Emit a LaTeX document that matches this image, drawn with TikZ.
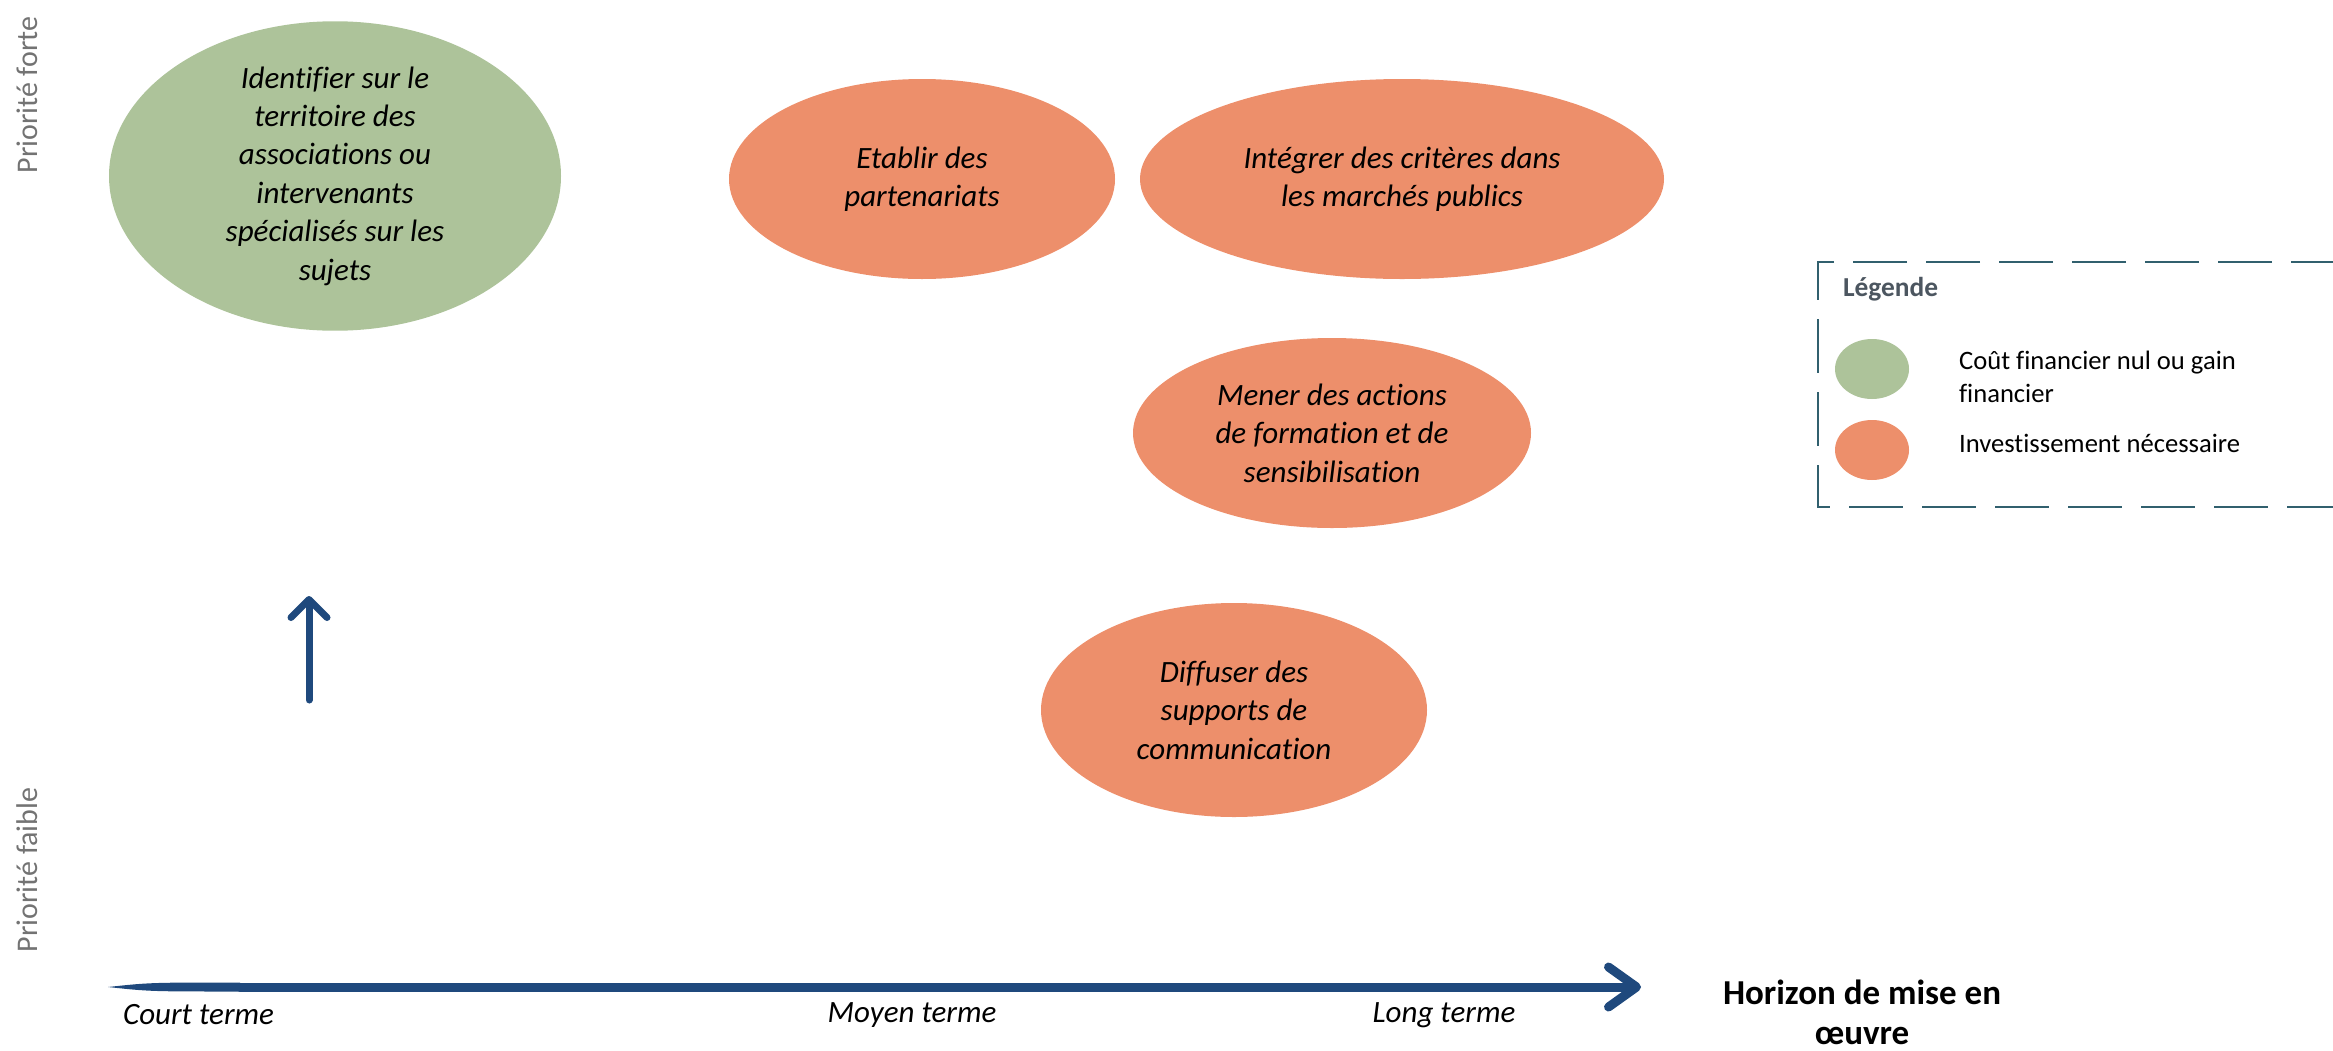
\documentclass[tikz,border=0pt]{standalone}
\usepackage{fontspec}
\setmainfont{Carlito}[Ligatures=NoCommon]
\usepackage{xcolor}
\usepackage{tikz}
\usetikzlibrary{arrows.meta,positioning,shapes.geometric}

\definecolor{gaingreen}{RGB}{173,195,154}
\definecolor{investorange}{RGB}{237,143,107}
\definecolor{axisblue}{RGB}{31,73,125}
\definecolor{legendline}{RGB}{49,96,110}
\definecolor{legendtitle}{RGB}{76,86,96}
\definecolor{axisgray}{RGB}{115,115,115}

\begin{document}
\begin{tikzpicture}[
    x=0.5pt, y=-0.5pt,
    action/.style={ellipse, inner sep=0pt, align=center, font=\fontsize{15.5}{19.2}\selectfont\itshape},
    green/.style={action, fill=gaingreen},
    orange/.style={action, fill=investorange},
    keydot/.style={ellipse, inner sep=0pt, minimum width=37pt, minimum height=30pt},
    keytext/.style={anchor=west, align=left, font=\fontsize{13.3}{16.5}\selectfont},
    tick/.style={font=\fontsize{15.5}{19}\selectfont\itshape},
    prio/.style={rotate=90, text=axisgray, font=\fontsize{15}{18}\selectfont},
    axis/.style={draw=axisblue, line cap=round},
]
\useasboundingbox (0,0) rectangle (2333,1050);

% Actions
\node[green, minimum width=226pt, minimum height=149pt] (identifier) at (335,176)
    {Identifier sur le\\territoire des\\associations ou\\intervenants\\sp\'ecialis\'es sur les\\sujets};
\node[orange, minimum width=193pt, minimum height=100pt] (etablir) at (922,179)
    {Etablir des\\partenariats};
\node[orange, minimum width=262pt, minimum height=100pt] (integrer) at (1402,179)
    {Int\'egrer des crit\`eres dans\\les march\'es publics};
\node[orange, minimum width=199pt, minimum height=95pt] (mener) at (1332,433)
    {Mener des actions\\de formation et de\\sensibilisation};
\node[orange, minimum width=193pt, minimum height=107pt] (diffuser) at (1234,710)
    {Diffuser des\\supports de\\communication};

% Legend
\draw[legendline, line width=1pt, dash pattern=on 27pt off 9.5pt]
    (2345,262) -- (1818,262) -- (1818,507) -- (2345,507);
\node[anchor=west, text=legendtitle, font=\fontsize{13.7}{16}\selectfont\bfseries] (legende) at (1836,289) {L\'egende};
\node[keydot, fill=gaingreen] (keygreen) at (1872,369) {};
\node[keydot, fill=investorange] (keyorange) at (1872,450) {};
\node[keytext] (keygain) at (1952,377) {Co\^ut financier nul ou gain\\financier};
\node[keytext] (keyinvest) at (1952,443) {Investissement n\'ecessaire};

% Priority axis
\node[prio] (forte) at (27,95) {Priorit\'e forte};
\node[prio] (faible) at (27,870) {Priorit\'e faible};
\coordinate (vstart) at (309,700);
\coordinate (vend) at (309,596);
\draw[axis, line width=3.5pt, -{Straight Barb[round, length=9pt, width=18pt]}] (vstart) -- (vend);

% Time axis
\coordinate (hstart) at (108,987);
\coordinate (htaper) at (240,987);
\coordinate (hend) at (1641,987);
\fill[axisblue] (hstart) .. controls (150,982.5) .. (htaper |- 0,982.5) -- (htaper |- 0,991.5) .. controls (150,991.5) .. (hstart);
\draw[axis, line width=4.5pt, -{Straight Barb[round, length=14pt, width=20pt]}] (htaper) -- (hend);

% Time labels
\node[tick, anchor=west] (court) at (116,1015) {Court terme};
\node[tick] (moyen) at (912,1015) {Moyen terme};
\node[tick] (long) at (1444,1015) {Long terme};
\node[align=center, font=\fontsize{17.5}{20}\selectfont\bfseries] (horizon) at (1862,1012) {Horizon de mise en\\\oe uvre};

\end{tikzpicture}
\end{document}
